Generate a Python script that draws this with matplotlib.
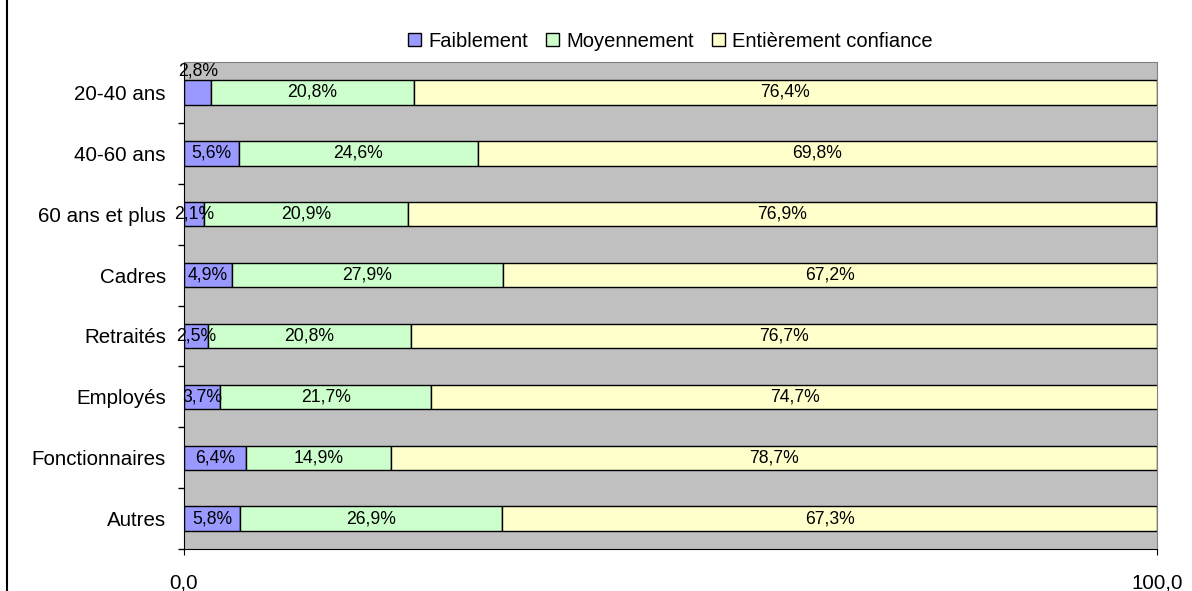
import matplotlib.pyplot as plt
import numpy as np
from matplotlib.lines import Line2D

plt.rcParams['font.family'] = ['Liberation Sans', 'DejaVu Sans']

categories = ['20-40 ans', '40-60 ans', '60 ans et plus', 'Cadres',
              'Retraités', 'Employés', 'Fonctionnaires', 'Autres']
faiblement = [2.8, 5.6, 2.1, 4.9, 2.5, 3.7, 6.4, 5.8]
moyennement = [20.8, 24.6, 20.9, 27.9, 20.8, 21.7, 14.9, 26.9]
entierement = [76.4, 69.8, 76.9, 67.2, 76.7, 74.7, 78.7, 67.3]
series_names = ['Faiblement', 'Moyennement', 'Entièrement confiance']
colors = ['#9999FF', '#CCFFCC', '#FFFFCC']


def fmt(v):
    return ('%.1f%%' % v).replace('.', ',')


fig = plt.figure(figsize=(11.92, 5.91), dpi=100)
ax = fig.add_axes([0.1544, 0.0711, 0.9706 - 0.1544, 0.895 - 0.0711])
ax.set_facecolor('#C0C0C0')

y = np.arange(len(categories))
left = np.zeros(len(categories))
for vals, name, col in zip([faiblement, moyennement, entierement], series_names, colors):
    vals = np.array(vals)
    ax.barh(y, vals, left=left, height=0.4, color=col, edgecolor='black',
            linewidth=1, label=name)
    for yi, l, v in zip(y, left, vals):
        dy = 0
        if v < 3 and yi == 0:
            dy = -0.36
        ax.text(l + v / 2, yi + dy, fmt(v), ha='center', va='center',
                fontsize=12.7)
    left = left + vals

ax.set_xlim(0, 100)
ax.set_ylim(len(categories) - 0.5, -0.5)
ax.set_yticks(y)
ax.set_yticklabels(categories, fontsize=14.8)
ax.set_yticks(np.arange(0.5, len(categories)), minor=True)
ax.tick_params(axis='y', which='major', length=0, pad=13)
ax.tick_params(axis='y', which='minor', length=4.5, direction='out', width=1)
ax.set_xticks([0, 100])
ax.set_xticklabels(['0,0', '100,0'], fontsize=14.8)
ax.tick_params(axis='x', length=4.5, direction='out', pad=13)
for s in ['top', 'right']:
    ax.spines[s].set_color('#808080')
for s in ['left', 'bottom']:
    ax.spines[s].set_color('black')

ax.legend(loc='center', bbox_to_anchor=(0.5, 1 + 21 / 487), ncol=3, frameon=False,
          fontsize=14.5, handlelength=0.65, handleheight=0.65, handletextpad=0.35,
          columnspacing=0.9, borderpad=0)

fig.add_artist(Line2D([7 / 1192, 7 / 1192], [0, 1], color='black', linewidth=1.5))

fig.savefig('out.png', dpi=100)
